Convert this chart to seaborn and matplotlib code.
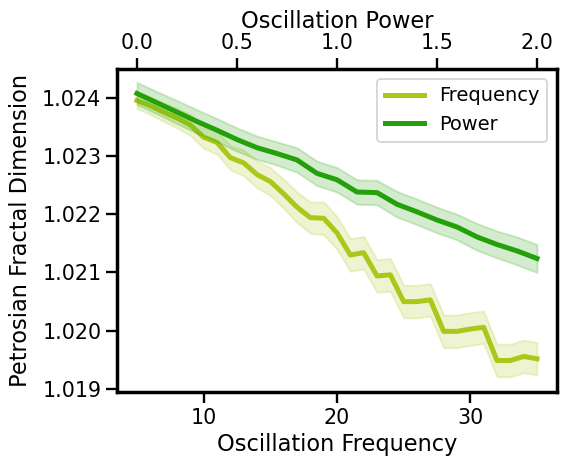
import numpy as np
import pandas as pd
import matplotlib
matplotlib.use("Agg")
import matplotlib.pyplot as plt
import seaborn as sns

# ---- data ----
freq_x = list(range(5, 36))
freq_mean = [1.02395, 1.02386, 1.02375, 1.02365, 1.02353, 1.02332, 1.02323, 1.02297,
             1.02288, 1.02268, 1.02256, 1.02235, 1.02212, 1.02194, 1.02193, 1.02168,
             1.02130, 1.02134, 1.02094, 1.02096, 1.02050, 1.02050, 1.02053, 1.01999,
             1.01999, 1.02003, 1.02006, 1.01949, 1.01949, 1.01956, 1.01952]
freq_half = [0.00014, 0.00015, 0.00016, 0.00017, 0.00018, 0.00019, 0.00020, 0.00021,
             0.00022, 0.00023, 0.00024, 0.00025, 0.00026, 0.00027, 0.00028, 0.00028,
             0.00028, 0.00028, 0.00028, 0.00028, 0.00028, 0.00028, 0.00028, 0.00028,
             0.00028, 0.00028, 0.00028, 0.00028, 0.00028, 0.00028, 0.00028]

power_x = [0.0, 0.1, 0.2, 0.3, 0.4, 0.5, 0.6, 0.7, 0.8, 0.9, 1.0,
           1.1, 1.2, 1.3, 1.4, 1.5, 1.6, 1.7, 1.8, 1.9, 2.0]
power_mean = [1.02407, 1.02391, 1.02375, 1.02359, 1.02344, 1.02328, 1.02314, 1.02304,
              1.02293, 1.02270, 1.02259, 1.02238, 1.02237, 1.02217, 1.02204, 1.02190,
              1.02178, 1.02161, 1.02148, 1.02137, 1.02124]
power_half = [0.00019, 0.00019, 0.00020, 0.00020, 0.00020, 0.00020, 0.00020, 0.00020,
              0.00021, 0.00021, 0.00021, 0.00021, 0.00021, 0.00022, 0.00022, 0.00022,
              0.00022, 0.00023, 0.00023, 0.00024, 0.00024]

freq_color = "#AAC81A"
power_color = "#24A00A"

x_ticks_freq = [10, 20, 30]
x_ticks_power = [0.0, 0.5, 1.0, 1.5, 2.0]
y_ticks = [1.019, 1.020, 1.021, 1.022, 1.023, 1.024]


def long_table(xs, means, halves, xname):
    rows = []
    for x, m, h in zip(xs, means, halves):
        for v in (m - h, m, m + h):
            rows.append({xname: x, "value": v})
    return pd.DataFrame(rows)


df_freq = long_table(freq_x, freq_mean, freq_half, "freq")
df_power = long_table(power_x, power_mean, power_half, "power")

sns.set_context("talk")
DPI = 90
fig = plt.figure(figsize=(565 / DPI, 465 / DPI), dpi=DPI)
ax = fig.add_axes([117 / 565, 1 - 392 / 465, 440 / 565, 323 / 465])
ax2 = ax.twiny()

sns.lineplot(data=df_freq, x="freq", y="value", estimator="mean",
             errorbar=("pi", 100), color=freq_color, linewidth=4, ax=ax,
             label="Frequency", legend=False)
sns.lineplot(data=df_power, x="power", y="value", estimator="mean",
             errorbar=("pi", 100), color=power_color, linewidth=4, ax=ax2,
             label="Power", legend=False)

ax.set_xlim(3.5, 36.5)
ax2.set_xlim(-0.1, 2.1)
ax.set_ylim(1.01895, 1.02449)
ax.set_xticks(x_ticks_freq)
ax2.set_xticks(x_ticks_power)
ax.set_yticks(y_ticks)
ax.set_yticklabels([f"{v:.3f}" for v in y_ticks])
ax2.set_xticklabels([f"{v:.1f}" for v in x_ticks_power])

ax.set_xlabel("Oscillation Frequency")
ax.set_ylabel("Petrosian Fractal Dimension", labelpad=8)
ax2.set_xlabel("Oscillation Power")
ax2.set_ylabel("")

for a in (ax, ax2):
    for s in a.spines.values():
        s.set_linewidth(2.6)

h1, l1 = ax.get_legend_handles_labels()
h2, l2 = ax2.get_legend_handles_labels()
leg = ax2.legend(h1 + h2, l1 + l2, loc="upper right", fontsize=15.5)
for line in leg.get_lines():
    line.set_linewidth(4)

fig.savefig("out.png", dpi=DPI)
